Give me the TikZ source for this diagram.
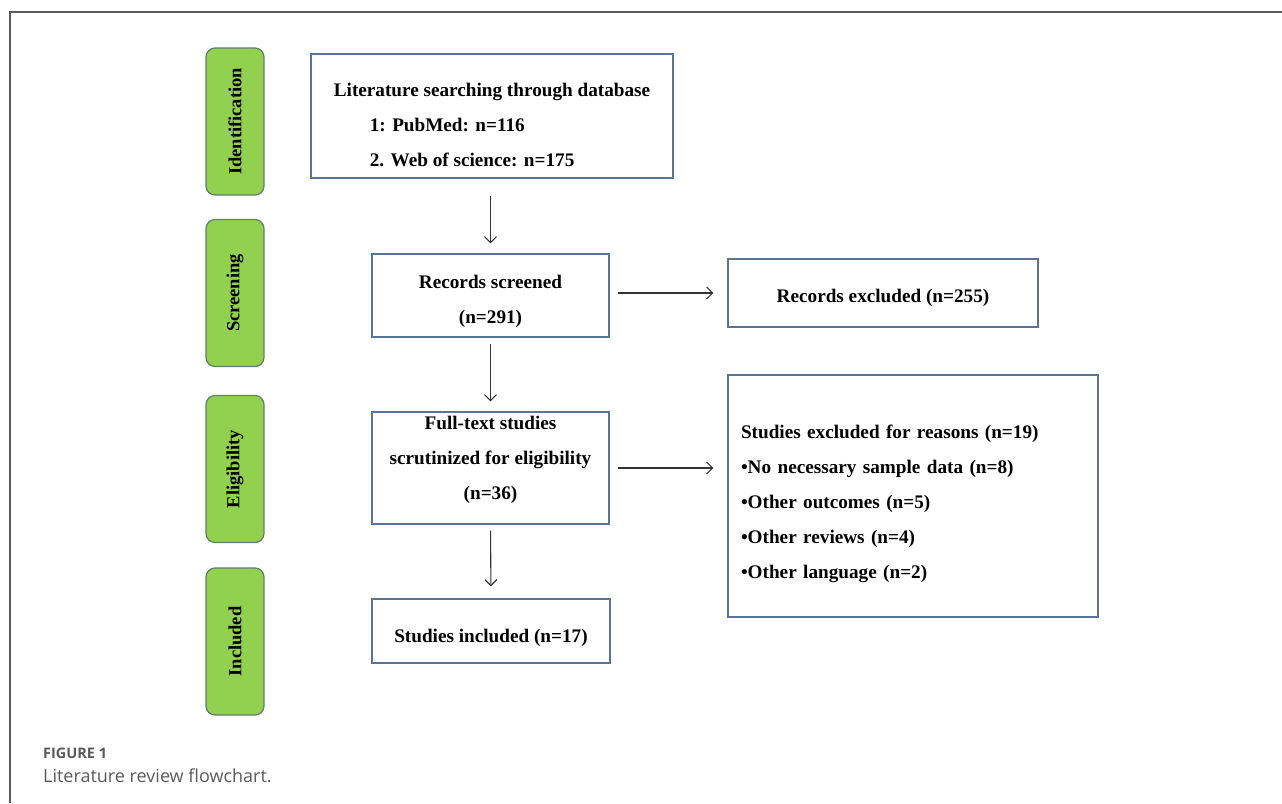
\documentclass[tikz,border=0pt]{standalone}
\usepackage{fontspec}
\setmainfont{Liberation Serif}
\newfontfamily\capfont{Open Sans}
\usetikzlibrary{arrows.meta}

\definecolor{stagegreen}{HTML}{92D050}
\definecolor{stageedge}{HTML}{5F7F6B}
\definecolor{boxedge}{HTML}{5B7398}
\definecolor{capgray}{HTML}{5A5A5A}

\begin{document}
\begin{tikzpicture}[x=1pt,y=-1pt,
		stage/.style={draw=stageedge,line width=1.2pt,fill=stagegreen,rounded corners=9pt,
			rotate=90,minimum width=147pt,minimum height=58pt,inner sep=0pt,
			font=\fontsize{18.5}{20}\selectfont\bfseries},
		stepbox/.style={draw=boxedge,line width=1.2pt,fill=white,inner sep=0pt,
			align=center,font=\fontsize{19.2}{35}\selectfont\bfseries},
		arr/.style={-{Straight Barb[length=6pt,width=12pt]},line width=1.1pt,draw=black!80}]
	\useasboundingbox (0,0) rectangle (1282,803);
	% Outer frame (open on the right and bottom)
	\draw[line width=1.4pt,capgray] (10,803) -- (10,12) -- (1282,12);
	
	% Stages on the left
	\node[stage] (ident) at (235,121.5) {Identification};
	\node[stage] (screen) at (235,293) {Screening};
	\node[stage] (elig) at (235,469) {Eligibility};
	\node[stage] (incl) at (235,641.5) {Included};
	
	% Main column
	\node[stepbox,minimum width=362pt,minimum height=124pt,align=left] (search) at (492,116)
		{\rule{0pt}{31pt}Literature searching through database\\
		 \hspace*{36pt}1: PubMed: n=116\\
		 \hspace*{36pt}2. Web of science: n=175};
	\node[stepbox,minimum width=237pt,minimum height=83pt] (screened) at (490.5,295.5)
		{\rule{0pt}{25pt}Records screened\\(n=291)};
	\node[stepbox,minimum width=237pt,minimum height=112pt] (fulltext) at (490.5,468)
		{Full-text studies\\scrutinized for eligibility\\(n=36)\rule[-21pt]{0pt}{0pt}};
	\node[stepbox,minimum width=238pt,minimum height=64pt] (included) at (491,631)
		{\rule{0pt}{27pt}Studies included (n=17)};
	
	% Exclusions on the right
	\node[stepbox,minimum width=310pt,minimum height=68pt] (excl1) at (883,293)
		{\rule{0pt}{23pt}Records excluded (n=255)};
	\node[stepbox,minimum width=370pt,minimum height=242pt,align=left,
		text width=344pt] (excl2) at (913,496)
		{\rule{0pt}{30pt}Studies excluded for reasons (n=19)\\
		 \textbullet No necessary sample data (n=8)\\
		 \textbullet Other outcomes (n=5)\\
		 \textbullet Other reviews (n=4)\\
		 \textbullet Other language (n=2)};
	
	% Arrows
	\draw[arr,shorten <=17pt,shorten >=10pt] (search.south -| screened) -- (screened.north);
	\draw[arr,shorten <=6pt,shorten >=10pt] (screened.south) -- (fulltext.north);
	\draw[arr,shorten <=6pt,shorten >=12pt] (fulltext.south) -- (included.north);
	\draw[arr,shorten <=8pt,shorten >=14pt] (screened.east |- excl1.west) -- (excl1.west);
	\draw[arr,shorten <=8pt,shorten >=14pt] (fulltext.east) -- (fulltext.east -| excl2.west);
	
	% Caption
	\node[anchor=west,capgray,inner sep=0pt,font=\capfont\fontsize{14.5}{16}\selectfont\bfseries] (figno) at (43,753) {FIGURE 1};
	\node[anchor=west,capgray,inner sep=0pt,font=\capfont\fontsize{18}{20}\selectfont] (figcap) at (43,776) {Literature review flowchart.};
\end{tikzpicture}
\end{document}
